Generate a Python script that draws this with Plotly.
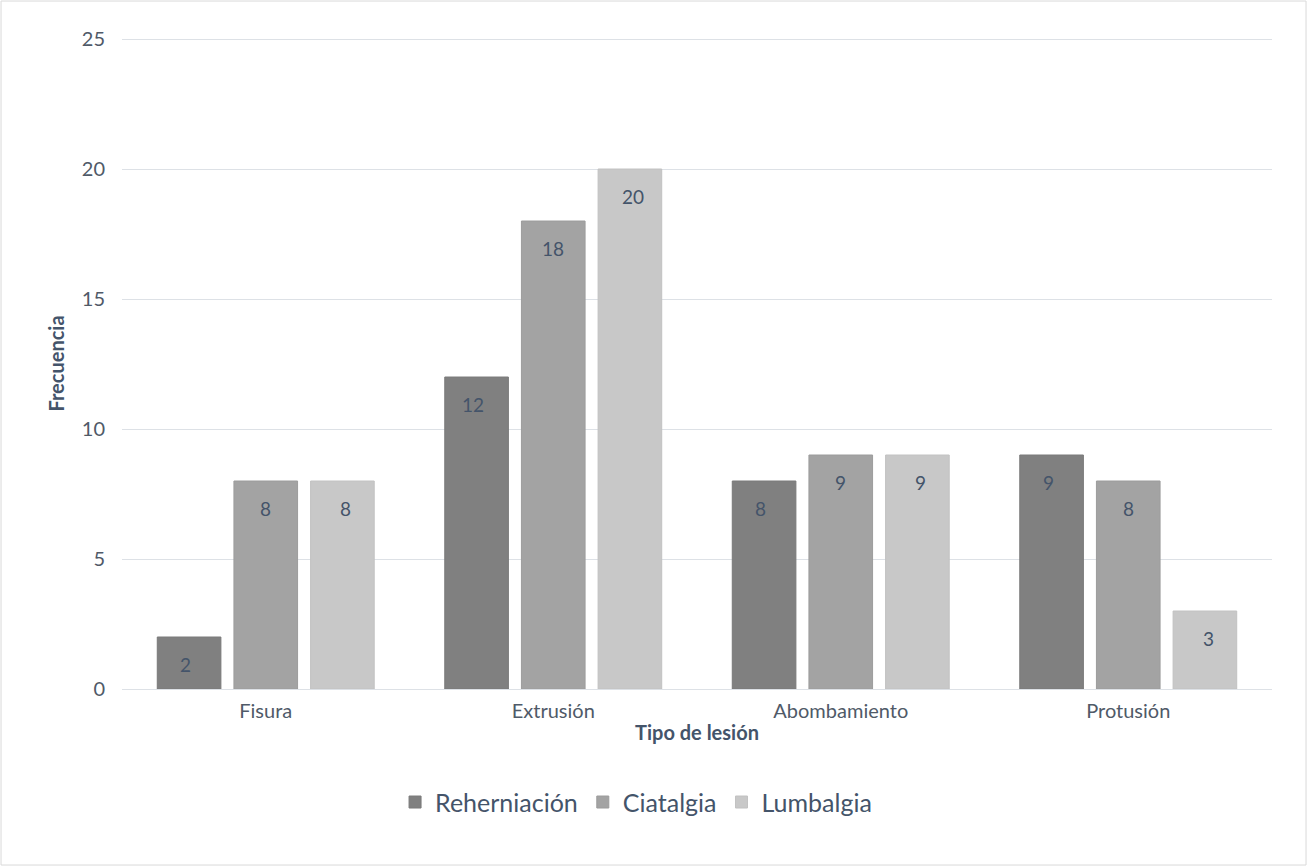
import plotly.graph_objects as go

categories = ["Fisura", "Extrusión", "Abombamiento", "Protusión"]
series_names = ["Reherniación", "Ciatalgia", "Lumbalgia"]
reherniacion = [2, 12, 8, 9]
ciatalgia = [8, 18, 9, 8]
lumbalgia = [8, 20, 9, 3]
y_ticks = [0, 5, 10, 15, 20, 25]

series_values = [reherniacion, ciatalgia, lumbalgia]
colors = ["#808080", "#a3a3a3", "#c8c8c8"]
line_colors = ["#7a7a7a", "#9c9c9c", "#c2c2c2"]
FONT = "Lato"
TXT = "#44546a"
TICK = "#505a68"

fig = go.Figure()
for name, vals, c, lc in zip(series_names, series_values, colors, line_colors):
    fig.add_trace(go.Bar(
        x=categories, y=vals, name=name,
        marker=dict(color=c, line=dict(color=lc, width=1)),
    ))

# data labels inside the top of each bar
n = len(series_names)
for i, vals in enumerate(series_values):
    for cat, v in zip(categories, vals):
        fig.add_annotation(
            x=cat, y=v, text=str(v), showarrow=False,
            xshift=(i - (n - 1) / 2) * 80, yshift=-27,
            font=dict(family=FONT, size=19, color=TXT),
        )

fig.update_layout(
    width=1308, height=867,
    margin=dict(l=122, r=36, t=38, b=178),
    paper_bgcolor="white", plot_bgcolor="white",
    barmode="group", bargap=0.2, bargroupgap=0.17,
    font=dict(family=FONT, size=20, color=TXT),
    legend=dict(
        orientation="h", x=0.447, xanchor="center", y=-0.174, yanchor="middle",
        font=dict(family=FONT, size=25, color=TXT),
        traceorder="normal",
    ),
    xaxis=dict(
        title=dict(text="<b>Tipo de lesión</b>", standoff=4,
                   font=dict(family=FONT, size=20, color=TXT)),
        tickfont=dict(family=FONT, size=20, color=TICK),
        ticklabelstandoff=8,
        showline=False, showgrid=False, ticks="",
    ),
    yaxis=dict(
        title=dict(text="<b>Frecuencia</b>", standoff=11,
                   font=dict(family=FONT, size=20, color=TXT)),
        range=[0, 25.04], tickvals=y_ticks,
        tickfont=dict(family=FONT, size=20, color=TICK),
        ticklabelstandoff=16,
        showgrid=True, gridcolor="#dde1e6", gridwidth=1.3,
        zeroline=True, zerolinecolor="#dde1e6", zerolinewidth=1.3,
        ticks="", showline=False,
    ),
    shapes=[dict(
        type="rect", xref="paper", yref="paper",
        x0=-0.1052, x1=1.0296, y0=-0.2704, y1=1.0568,
        line=dict(color="#d9d9d9", width=1), fillcolor="rgba(0,0,0,0)",
        layer="below",
    )],
)

fig.write_html("out.html", config={"displayModeBar": False},
               post_script="document.body.style.margin='0';")
